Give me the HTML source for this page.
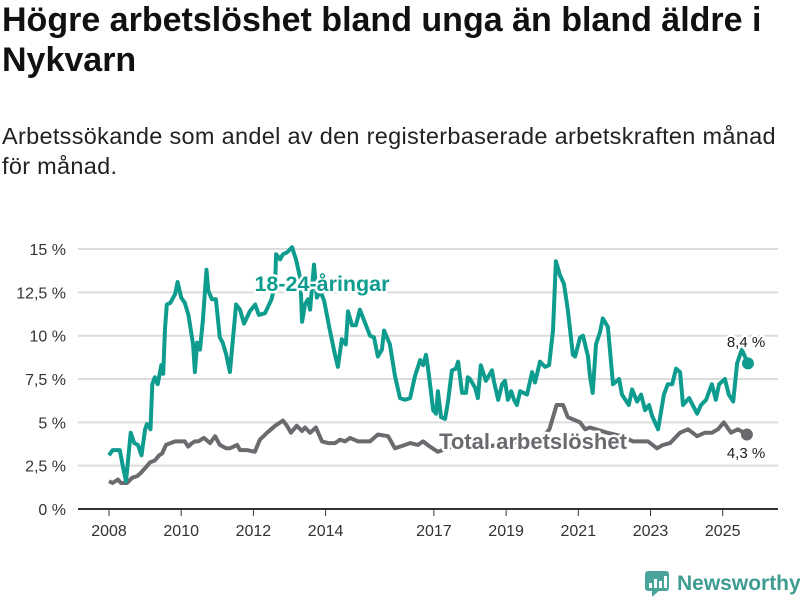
<!DOCTYPE html>
<html><head><meta charset="utf-8"><style>
body{margin:0;width:800px;height:600px;background:#fff;font-family:"Liberation Sans",sans-serif;overflow:hidden;position:relative}
h1{position:absolute;left:2px;top:0px;margin:0;font-size:34px;line-height:40px;font-weight:bold;color:#111;white-space:nowrap}
.sub{position:absolute;left:2px;top:121px;margin:0;font-size:23.5px;line-height:30px;color:#222;white-space:nowrap;letter-spacing:0.3px}
svg{position:absolute;left:0;top:0}
</style></head><body>
<h1>Högre arbetslöshet bland unga än bland äldre i<br>Nykvarn</h1>
<p class="sub">Arbetssökande som andel av den registerbaserade arbetskraften månad<br>för månad.</p>
<svg id="c" width="800" height="600"></svg>
<script>
const yTicks=[0,2.5,5,7.5,10,12.5,15];
const yTickLabels=["0 %","2,5 %","5 %","7,5 %","10 %","12,5 %","15 %"];
const xTicks=[2008,2010,2012,2014,2017,2019,2021,2023,2025];
const youthDates=[2008.0,2008.1,2008.3,2008.4,2008.47,2008.6,2008.7,2008.8,2008.9,2009.0,2009.05,2009.15,2009.2,2009.27,2009.35,2009.45,2009.5,2009.55,2009.6,2009.7,2009.83,2009.9,2010.0,2010.1,2010.2,2010.33,2010.38,2010.44,2010.52,2010.6,2010.7,2010.75,2010.85,2010.96,2011.07,2011.15,2011.25,2011.35,2011.52,2011.63,2011.74,2011.9,2012.05,2012.15,2012.32,2012.5,2012.6,2012.63,2012.74,2012.82,2012.93,2013.07,2013.18,2013.3,2013.35,2013.43,2013.51,2013.57,2013.68,2013.76,2013.85,2013.96,2014.12,2014.26,2014.34,2014.45,2014.56,2014.62,2014.73,2014.84,2014.95,2015.12,2015.23,2015.34,2015.45,2015.56,2015.62,2015.78,2015.92,2016.06,2016.2,2016.34,2016.48,2016.62,2016.7,2016.78,2016.84,2016.98,2017.06,2017.11,2017.2,2017.31,2017.39,2017.5,2017.61,2017.67,2017.78,2017.89,2017.94,2018.0,2018.14,2018.22,2018.3,2018.44,2018.61,2018.66,2018.78,2018.89,2018.97,2019.05,2019.14,2019.22,2019.3,2019.39,2019.58,2019.72,2019.8,2019.94,2020.08,2020.19,2020.3,2020.38,2020.49,2020.6,2020.71,2020.85,2020.91,2021.05,2021.13,2021.27,2021.32,2021.4,2021.49,2021.6,2021.68,2021.82,2021.96,2022.13,2022.21,2022.4,2022.49,2022.63,2022.74,2022.85,2022.96,2023.04,2023.21,2023.37,2023.48,2023.6,2023.71,2023.82,2023.9,2024.07,2024.29,2024.4,2024.54,2024.7,2024.81,2024.9,2025.06,2025.17,2025.29,2025.4,2025.53,2025.7];
const youthValues=[3.1,3.4,3.4,2.3,1.6,4.4,3.8,3.7,3.1,4.6,4.9,4.6,7.2,7.6,7.2,8.3,7.8,10.4,11.8,11.9,12.4,13.1,12.2,11.9,11.2,9.5,7.9,9.6,9.2,10.9,13.8,12.6,12.1,12.1,9.9,9.6,8.9,7.9,11.8,11.5,10.7,11.4,11.8,11.2,11.3,12.1,13.0,14.7,14.4,14.7,14.8,15.1,14.4,13.3,10.8,11.8,12.1,11.5,14.1,12.2,12.6,12.0,10.3,8.9,8.2,9.8,9.5,11.4,10.6,10.6,11.5,10.6,10.0,9.9,8.8,9.2,10.3,9.5,7.7,6.4,6.3,6.4,7.7,8.6,8.3,8.9,8.1,5.7,5.5,6.8,5.3,5.2,6.2,8.0,8.1,8.5,6.7,6.7,7.6,7.5,7.0,6.4,8.3,7.4,8.0,7.4,6.3,7.2,7.4,6.3,6.8,6.3,6.0,6.8,6.6,7.9,7.3,8.5,8.2,8.3,10.3,14.3,13.5,13.0,11.5,8.9,8.8,9.9,10.0,8.8,7.7,6.7,9.5,10.2,11.0,10.5,7.2,7.5,6.6,6.0,6.9,6.2,6.6,5.7,6.0,5.4,4.6,6.6,7.2,7.2,8.1,7.9,6.0,6.4,5.5,6.0,6.3,7.2,6.3,7.2,7.5,6.6,6.2,8.4,9.2,8.4];
const totalDates=[2008.0,2008.1,2008.25,2008.33,2008.5,2008.64,2008.78,2008.89,2009.02,2009.14,2009.27,2009.39,2009.47,2009.58,2009.83,2010.1,2010.19,2010.3,2010.38,2010.47,2010.63,2010.8,2010.94,2011.07,2011.24,2011.35,2011.55,2011.63,2011.82,2012.04,2012.18,2012.38,2012.6,2012.82,2012.93,2013.04,2013.2,2013.35,2013.43,2013.57,2013.73,2013.9,2014.07,2014.26,2014.4,2014.54,2014.68,2014.9,2015.0,2015.23,2015.34,2015.45,2015.73,2015.92,2016.06,2016.34,2016.56,2016.7,2016.89,2017.11,2017.5,2018.0,2018.5,2019.0,2019.5,2020.0,2020.2,2020.4,2020.58,2020.71,2021.05,2021.19,2021.32,2021.49,2021.8,2022.2,2022.52,2022.93,2023.18,2023.35,2023.54,2023.82,2024.04,2024.29,2024.51,2024.7,2024.87,2025.03,2025.23,2025.42,2025.67];
const totalValues=[1.6,1.5,1.7,1.5,1.5,1.8,1.9,2.1,2.4,2.7,2.8,3.1,3.2,3.7,3.9,3.9,3.6,3.8,3.9,3.9,4.1,3.8,4.2,3.7,3.5,3.5,3.7,3.4,3.4,3.3,4.0,4.4,4.8,5.1,4.8,4.4,4.8,4.5,4.7,4.4,4.7,3.9,3.8,3.8,4.0,3.9,4.1,3.9,3.9,3.9,4.1,4.3,4.2,3.5,3.6,3.8,3.7,3.9,3.6,3.3,3.6,3.7,3.6,3.8,3.9,4.1,4.6,6.0,6.0,5.3,5.0,4.6,4.7,4.6,4.4,4.2,3.9,3.9,3.5,3.7,3.8,4.4,4.6,4.2,4.4,4.4,4.6,5.0,4.4,4.6,4.3];
const youthLast="8,4 %", totalLast="4,3 %";
const NS="http://www.w3.org/2000/svg",svg=document.getElementById('c');
const X=y=>109+(y-2008)*36.1, Y=v=>509-v*17.33;
function mk(t,a,p){const e=document.createElementNS(NS,t);for(const k in a)e.setAttribute(k,a[k]);(p||svg).appendChild(e);return e;}
yTicks.forEach((v,i)=>{
 const g=mk('line',{x1:78,x2:778,y1:Y(v),y2:Y(v),stroke:v===0?'#333':'#dcdcdc','stroke-width':2});
 
 
 const t=mk('text',{x:66,y:Y(v)+6,'text-anchor':'end','font-size':16,fill:'#333','font-family':'Liberation Sans, sans-serif'});t.textContent=yTickLabels[i];
 
 
});
xTicks.forEach(yr=>{
 const l=mk('line',{x1:X(yr),x2:X(yr),y1:510,y2:516,stroke:'#333','stroke-width':1});
 
 
 const t=mk('text',{x:X(yr),y:536,'text-anchor':'middle','font-size':16,fill:'#333','font-family':'Liberation Sans, sans-serif'});t.textContent=yr;
 
 
});
function line(d,v,col,name){
 const p=mk('path',{d:d.map((x,i)=>(i?'L':'M')+X(x).toFixed(1)+','+Y(v[i]).toFixed(1)).join(''),fill:'none',stroke:col,'stroke-width':4,'stroke-linejoin':'round'});
 
 
 const n=d.length-1;
 const c=mk('circle',{cx:X(d[n]),cy:Y(v[n]),r:6,fill:col});
 
 
}
line(totalDates,totalValues,'#6b6a6f','total-line');
line(youthDates,youthValues,'#0e9c8f','youth-line');
function lab(x,y,txt,col,size,w,name,anchor){
 const t=mk('text',{x:x,y:y,'text-anchor':anchor||'middle','font-size':size,'font-weight':w,fill:col,stroke:'#fff','stroke-width':5,'paint-order':'stroke','stroke-linejoin':'round','font-family':'Liberation Sans, sans-serif'});t.textContent=txt;
 
 
}
lab(322,291,'18-24-åringar','#0e9c8f',21.5,'bold','youth-series-label');
lab(533,449,'Total arbetslöshet','#6b6a6f',22,'bold','total-series-label');
lab(746,347,youthLast,'#222',15,'normal','youth-end-value');
lab(746,458,totalLast,'#222',15,'normal','total-end-value');
const lg=mk('g',{});


mk('rect',{x:645,y:571,width:24,height:20,rx:3,fill:'#4aa49a'},lg);
mk('polygon',{points:'652,590 660,590 652,597',fill:'#4aa49a'},lg);
[[649,583,3,5],[654,579,3,9],[659,581,3,7],[664,576,3,12]].forEach(b=>mk('rect',{x:b[0],y:b[1],width:b[2],height:b[3],fill:'#fff'},lg));
const lt=mk('text',{x:677,y:590,'font-size':21,'font-weight':'bold',fill:'#3f9c91','font-family':'Liberation Sans, sans-serif'},lg);lt.textContent='Newsworthy';
</script>
</body></html>
